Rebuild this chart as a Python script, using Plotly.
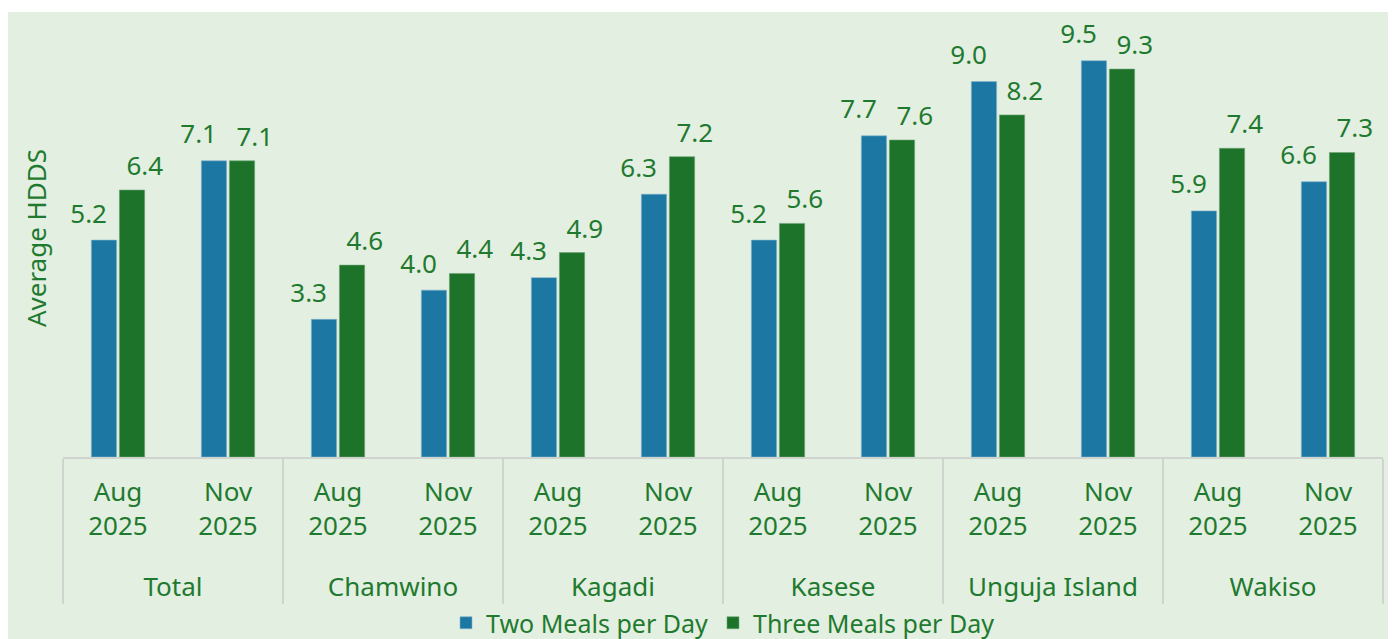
import plotly.graph_objects as go

regions = ["Total", "Total", "Chamwino", "Chamwino", "Kagadi", "Kagadi",
           "Kasese", "Kasese", "Unguja Island", "Unguja Island", "Wakiso", "Wakiso"]
periods = ["Aug<br>2025<br>&nbsp;", "Nov<br>2025<br>&nbsp;"] * 6
two_meals = [5.2, 7.1, 3.3, 4.0, 4.3, 6.3, 5.2, 7.7, 9.0, 9.5, 5.9, 6.6]
three_meals = [6.4, 7.1, 4.6, 4.4, 4.9, 7.2, 5.6, 7.6, 8.2, 9.3, 7.4, 7.3]

BLUE = "#1c77a3"
GREEN = "#1c7329"
TEXT = "#1f7a2f"
BG = "#e3efe1"
FONT = "Noto Sans"
FS = 26

W, H = 1388, 631
L, R, T, B = 55, 13, 11, 182
PW, PH = W - L - R, H - T - B

fig = go.Figure()
fig.add_trace(go.Bar(
    name="Two Meals per Day", x=[regions, periods], y=two_meals,
    marker=dict(color=BLUE, line=dict(color="#7fb3cc", width=0.6)),
))
fig.add_trace(go.Bar(
    name="Three Meals per Day", x=[regions, periods], y=three_meals,
    marker=dict(color=GREEN, line=dict(color="#6fa577", width=0.6)),
))
# data labels: blue ones pushed left, green ones pushed right
fig.add_trace(go.Scatter(
    x=[regions, periods], y=two_meals, mode="markers+text",
    marker=dict(size=16, opacity=0), text=[f"{v:.1f}" for v in two_meals],
    textposition="top left", textfont=dict(color=TEXT, size=FS, family=FONT),
    showlegend=False, hoverinfo="skip", cliponaxis=False,
))
fig.add_trace(go.Scatter(
    x=[regions, periods], y=three_meals, mode="markers+text",
    marker=dict(size=12, opacity=0), text=[f"{v:.1f}" for v in three_meals],
    textposition="top right", textfont=dict(color=TEXT, size=FS, family=FONT),
    showlegend=False, hoverinfo="skip", cliponaxis=False,
))

fig.update_layout(
    width=W, height=H,
    paper_bgcolor=BG, plot_bgcolor=BG,
    margin=dict(l=L, r=R, t=T, b=B, autoexpand=False),
    barmode="group", bargap=0.49, bargroupgap=0.1,
    font=dict(family=FONT, color=TEXT, size=FS),
    showlegend=True,
    legend=dict(orientation="h", x=0.5, xanchor="center", y=-166 / PH, yanchor="middle",
                font=dict(size=25, color=TEXT, family=FONT), bgcolor="rgba(0,0,0,0)",
                traceorder="normal"),
    xaxis=dict(type="multicategory", range=[-0.5, 11.5], showline=True,
               linecolor="#d0d4cf", linewidth=1.5,
               showdividers=True, dividercolor="#d0d4cf", dividerwidth=1.5,
               tickfont=dict(size=FS, color=TEXT, family=FONT), ticks="",
               ticklabelstandoff=11, automargin=False),
    yaxis=dict(range=[0, 10.5], showgrid=False, showticklabels=False, zeroline=False,
               automargin=False,
               title=dict(text="Average HDDS", font=dict(size=FS, color=TEXT, family=FONT),
                          standoff=7)),
    shapes=[
        dict(type="rect", xref="paper", yref="paper", x0=-L / PW, x1=1 + R / PW,
             y0=1 + (T - 4) / PH, y1=1 + T / PH, fillcolor="white",
             line=dict(width=0), layer="below"),
    ],
)

fig.write_html("out.html")
